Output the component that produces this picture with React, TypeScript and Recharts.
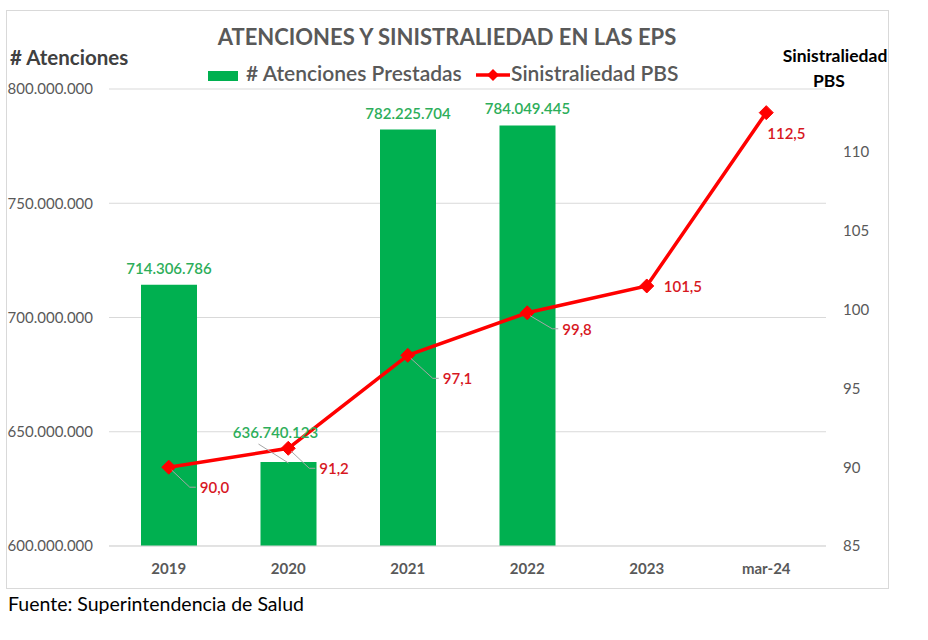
import React from "react"
import {
  ComposedChart,
  Bar,
  Line,
  XAxis,
  YAxis,
  CartesianGrid,
  LabelList,
} from "recharts"

// categories and series
const categories = ["2019", "2020", "2021", "2022", "2023", "mar-24"]
const atenciones = [714306786, 636740123, 782225704, 784049445, null, null]
const sinistralidad = [90.0, 91.2, 97.1, 99.8, 101.5, 112.5]

const leftTicks = [600000000, 650000000, 700000000, 750000000, 800000000]
const rightTicks = [85, 90, 95, 100, 105, 110]

// label nudges (style only)
const lineLabelOffsets: [number, number, boolean][] = [
  [31, 20, true],
  [31, 20, true],
  [35, 23, true],
  [35, 16, true],
  [17, 0, false],
  [1, 20, false],
]

const GREEN = "#00B050"
const RED = "#FF0000"
const FONT = "Lato, 'Open Sans', sans-serif"

const data = categories.map((c, i) => ({
  cat: c,
  atenciones: atenciones[i],
  sin: sinistralidad[i],
}))

function dots(n: number) {
  return String(Math.round(n)).replace(/\B(?=(\d{3})+(?!\d))/g, ".")
}

function comma(n: number) {
  return n.toFixed(1).replace(".", ",")
}

function Diamond(props: any) {
  const { cx, cy } = props
  if (cx == null || cy == null) return null
  const r = 7
  return (
    <path
      d={`M${cx},${cy - r}L${cx + r},${cy}L${cx},${cy + r}L${cx - r},${cy}Z`}
      fill={RED}
      stroke={RED}
    />
  )
}

function BarLabel(props: any) {
  const { x, y, width, value, index } = props
  if (value == null) return null
  const cx = x + width / 2
  const moved = index === 1
  const tx = moved ? cx - 13 : cx
  const ty = moved ? y - 30 : y - 17
  return (
    <g>
      {moved && (
        <line x1={cx - 30} y1={y - 18} x2={cx} y2={y + 1} stroke="#A6A6A6" strokeWidth={1} />
      )}
      <text
        x={tx}
        y={ty}
        textAnchor="middle"
        dominantBaseline="central"
        fill="#2DAE5A"
        fontSize={15}
        fontWeight={600}
        fontFamily={FONT}
      >
        {dots(value)}
      </text>
    </g>
  )
}

function LineLabel(props: any) {
  const { value, index } = props
  const x = props.x ?? props.viewBox?.x
  const y = props.y ?? props.viewBox?.y
  if (value == null || x == null) return null
  const [dx, dy, leader] = lineLabelOffsets[index] || [10, 0, false]
  const lx = x + dx
  const ly = y + dy
  return (
    <g>
      {leader && (
        <polyline
          points={`${x + 3},${y + 3} ${lx - 10},${ly} ${lx - 4},${ly}`}
          fill="none"
          stroke="#A6A6A6"
          strokeWidth={1}
        />
      )}
      <text
        x={lx}
        y={ly}
        textAnchor="start"
        dominantBaseline="central"
        fill="#D7181F"
        fontSize={15}
        fontWeight={600}
        fontFamily={FONT}
      >
        {comma(value)}
      </text>
    </g>
  )
}

export default function App() {
  const tickStyle = { fontSize: 15, fill: "#595959", fontFamily: FONT }

  return (
    <div
      style={{
        position: "absolute",
        left: 0,
        top: 0,
        width: 928,
        height: 640,
        background: "#fff",
        fontFamily: FONT,
      }}
    >
      <div
        style={{
          position: "absolute",
          left: 6,
          top: 10,
          width: 883,
          height: 579,
          border: "1px solid #D9D9D9",
          boxSizing: "border-box",
        }}
      />

      <ComposedChart
        width={928}
        height={640}
        data={data}
        margin={{ top: 89, right: 42, bottom: 64, left: 9 }}
        style={{ position: "absolute", left: 0, top: 0 }}
      >
        <CartesianGrid vertical={false} stroke="#D9D9D9" yAxisId="left" />
        <XAxis
          dataKey="cat"
          interval={0}
          height={30}
          tickSize={0}
          tickMargin={17}
          axisLine={{ stroke: "#D9D9D9" }}
          tickLine={false}
          tick={{ ...tickStyle, fontWeight: 700 }}
        />
        <YAxis
          yAxisId="left"
          width={100}
          domain={[600000000, 800000000]}
          ticks={leftTicks}
          tickFormatter={(v: number) => dots(v)}
          tickSize={0}
          tickMargin={16}
          axisLine={false}
          tickLine={false}
          tick={tickStyle}
        />
        <YAxis
          yAxisId="right"
          orientation="right"
          width={60}
          domain={[85, 114]}
          ticks={rightTicks}
          tickSize={0}
          tickMargin={17}
          axisLine={false}
          tickLine={false}
          tick={tickStyle}
        />
        <Bar
          yAxisId="left"
          dataKey="atenciones"
          fill={GREEN}
          barSize={56}
          isAnimationActive={false}
        >
          <LabelList dataKey="atenciones" content={(p: any) => <BarLabel {...p} />} />
        </Bar>
        <Line
          yAxisId="right"
          dataKey="sin"
          stroke={RED}
          strokeWidth={3.5}
          dot={(p: any) => <Diamond key={p.index} {...p} />}
          activeDot={false}
          isAnimationActive={false}
        >
          <LabelList dataKey="sin" content={(p: any) => <LineLabel {...p} />} />
        </Line>
      </ComposedChart>

      {/* title */}
      <div
        style={{
          position: "absolute",
          left: 0,
          width: 894,
          top: 23,
          textAlign: "center",
          fontSize: 22,
          fontWeight: 700,
          color: "#595959",
          lineHeight: "28px",
        }}
      >
        ATENCIONES Y SINISTRALIEDAD EN LAS EPS
      </div>

      {/* legend */}
      <div style={{ position: "absolute", left: 208, top: 71, width: 30, height: 10, background: GREEN }} />
      <div
        style={{
          position: "absolute",
          left: 246,
          top: 60,
          fontSize: 21,
          fontWeight: 600,
          color: "#595959",
          lineHeight: "26px",
          whiteSpace: "nowrap",
        }}
      >
        # Atenciones Prestadas
      </div>
      <svg style={{ position: "absolute", left: 474, top: 66 }} width={38} height={18}>
        <line x1={2} y1={9} x2={36} y2={9} stroke={RED} strokeWidth={3.5} />
        <path d="M19,3L25,9L19,15L13,9Z" fill={RED} />
      </svg>
      <div
        style={{
          position: "absolute",
          left: 511,
          top: 60,
          fontSize: 21,
          fontWeight: 600,
          color: "#595959",
          lineHeight: "26px",
          whiteSpace: "nowrap",
        }}
      >
        Sinistraliedad PBS
      </div>

      {/* axis titles */}
      <div
        style={{
          position: "absolute",
          left: 10,
          top: 44,
          fontSize: 20.5,
          fontWeight: 700,
          color: "#404040",
          lineHeight: "26px",
          whiteSpace: "nowrap",
        }}
      >
        # Atenciones
      </div>
      <div
        style={{
          position: "absolute",
          left: 775,
          width: 120,
          top: 43,
          textAlign: "center",
          fontSize: 17.5,
          fontWeight: 700,
          color: "#000",
          lineHeight: "25px",
        }}
      >
        <div>Sinistraliedad</div>
        <div style={{ marginRight: 12 }}>PBS</div>
      </div>

      {/* source */}
      <div
        style={{
          position: "absolute",
          left: 8,
          top: 592,
          fontSize: 19.5,
          color: "#000",
          lineHeight: "24px",
          whiteSpace: "nowrap",
        }}
      >
        Fuente: Superintendencia de Salud
      </div>
    </div>
  )
}
